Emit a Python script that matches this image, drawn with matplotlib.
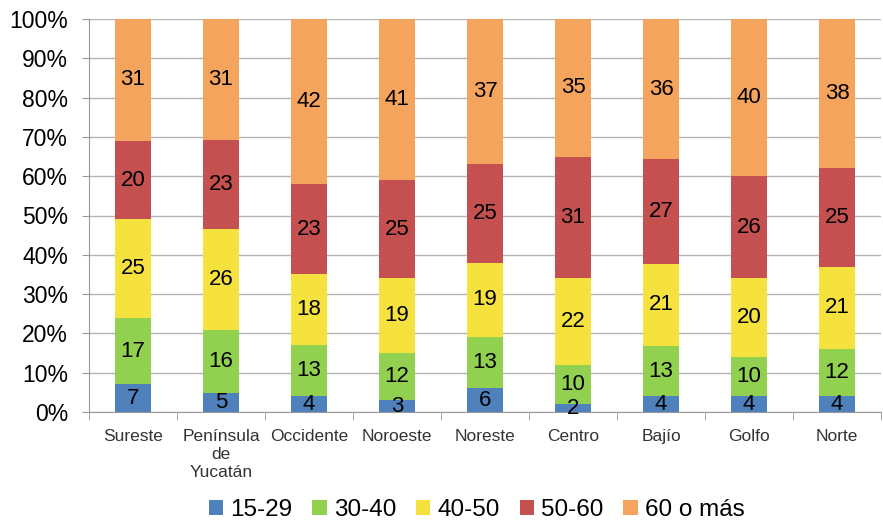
import numpy as np
import matplotlib
matplotlib.use("Agg")
import matplotlib.pyplot as plt

plt.rcParams['font.family'] = ['Liberation Sans', 'DejaVu Sans']

regiones = ["Sureste", "Península\nde\nYucatán", "Occidente", "Noroeste", "Noreste",
            "Centro", "Bajío", "Golfo", "Norte"]
grupos = ["15-29", "30-40", "40-50", "50-60", "60 o más"]
v15_29 = [7, 5, 4, 3, 6, 2, 4, 4, 4]
v30_40 = [17, 16, 13, 12, 13, 10, 13, 10, 12]
v40_50 = [25, 26, 18, 19, 19, 22, 21, 20, 21]
v50_60 = [20, 23, 23, 25, 25, 31, 27, 26, 25]
v60_mas = [31, 31, 42, 41, 37, 35, 36, 40, 38]
colores = ["#4F81BD", "#92D050", "#F5E23F", "#C4504F", "#F5A45D"]

series = np.array([v15_29, v30_40, v40_50, v50_60, v60_mas], dtype=float)
totales = series.sum(axis=0)
pct = series / totales * 100

fig = plt.figure(figsize=(8.83, 5.27), dpi=100)
ax = fig.add_axes([89/883, 115/527, 792/883, 393/527])

x = np.arange(len(regiones))
base = np.zeros(len(regiones))
for i in range(len(grupos)):
    ax.bar(x, pct[i], 0.4, bottom=base, color=colores[i], label=grupos[i], zorder=2)
    for j in range(len(regiones)):
        ax.text(x[j], base[j] + pct[i][j] / 2, "%d" % series[i][j], ha="center", va="center",
                fontsize=16, color="black", zorder=3)
    base += pct[i]

ax.set_xlim(-0.5, len(regiones) - 0.5)
ax.set_ylim(0, 100)
ax.set_yticks(np.arange(0, 101, 10))
ax.set_yticklabels(["%d%%" % v for v in range(0, 101, 10)], fontsize=16.5)
ax.set_xticks(x)
ax.set_xticklabels(regiones, fontsize=12.5, color="#333333", va="top", linespacing=1.25)
ax.set_xticks(np.arange(-0.5, len(regiones), 1), minor=True)
ax.tick_params(axis="x", which="major", length=0, pad=12)
ax.tick_params(axis="x", which="minor", length=6, color="#999999", direction="out")
ax.tick_params(axis="y", length=5, color="#999999", pad=10)
ax.yaxis.grid(True, color="#b3b3b3", linewidth=1, zorder=0)
ax.set_axisbelow(True)
for s in ["top", "right"]:
    ax.spines[s].set_visible(False)
for s in ["left", "bottom"]:
    ax.spines[s].set_color("#999999")

fig.legend(loc="lower center", bbox_to_anchor=(0.54, -0.03), ncol=5, frameon=False,
           fontsize=17.5, handlelength=0.6, handleheight=0.6, handletextpad=0.3,
           columnspacing=0.8)

fig.savefig("out.png", dpi=100)
